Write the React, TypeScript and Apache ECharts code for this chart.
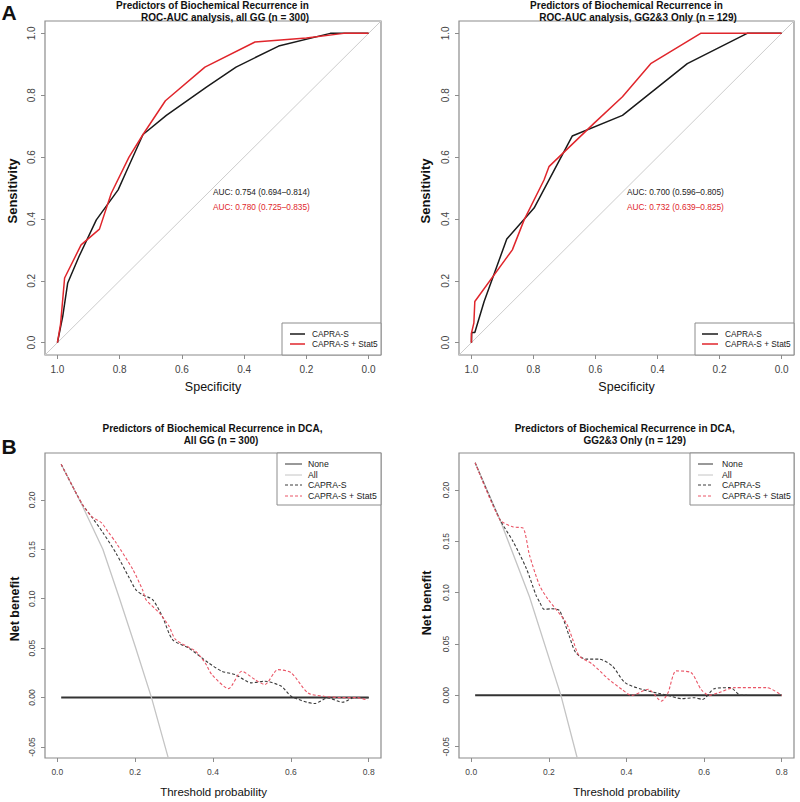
import React, { useEffect, useRef } from "react";
import * as echarts from "echarts";

const FONT = "'Liberation Sans', Arial, Helvetica, sans-serif";

// ---------- Tick labels ----------
const rocTicks = [0, 0.2, 0.4, 0.6, 0.8, 1.0];
const dcaXTicks = [0, 0.2, 0.4, 0.6, 0.8];
const dcaYTicks = [-0.05, 0, 0.05, 0.1, 0.15, 0.2];

// ---------- ROC, all GG (n = 300) ----------
const rocAllCapraSpec = [1.0, 0.99, 0.983, 0.967, 0.93, 0.875, 0.805, 0.78, 0.725, 0.65, 0.52, 0.426, 0.289, 0.123, 0.0];
const rocAllCapraSens = [0.0, 0.05, 0.085, 0.193, 0.28, 0.397, 0.494, 0.55, 0.673, 0.735, 0.827, 0.891, 0.959, 1.0, 1.0];
const rocAllStat5Spec = [1.0, 0.99, 0.977, 0.924, 0.865, 0.827, 0.77, 0.725, 0.653, 0.526, 0.365, 0.2, 0.08, 0.0];
const rocAllStat5Sens = [0.0, 0.06, 0.209, 0.316, 0.367, 0.483, 0.6, 0.673, 0.782, 0.891, 0.972, 0.985, 1.0, 1.0];

// ---------- ROC, GG2&3 only (n = 129) ----------
const rocGGCapraSpec = [1.0, 0.999, 0.989, 0.959, 0.886, 0.798, 0.675, 0.513, 0.304, 0.111, 0.0];
const rocGGCapraSens = [0.0, 0.033, 0.033, 0.133, 0.335, 0.435, 0.668, 0.735, 0.902, 1.0, 1.0];
const rocGGStat5Spec = [1.0, 1.0, 0.992, 0.989, 0.868, 0.83, 0.766, 0.75, 0.605, 0.513, 0.422, 0.261, 0.0];
const rocGGStat5Sens = [0.0, 0.03, 0.064, 0.133, 0.3, 0.397, 0.526, 0.569, 0.709, 0.795, 0.902, 1.0, 1.0];

// ---------- AUC labels ----------
const aucAll = ["AUC: 0.754 (0.694\u20130.814)", "AUC: 0.780 (0.725\u20130.835)"];
const aucGG = ["AUC: 0.700 (0.596\u20130.805)", "AUC: 0.732 (0.639\u20130.825)"];

// ---------- DCA, all GG ----------
const dcaAllNoneThr = [0.01, 0.8];
const dcaAllNoneNb = [0, 0];
const dcaAllAllThr = [0.01, 0.062, 0.117, 0.16, 0.2, 0.242, 0.285];
const dcaAllAllNb = [0.236, 0.196, 0.15, 0.1, 0.052, 0.0, -0.061];
const dcaAllCapraThr = [0.01, 0.062, 0.087, 0.117, 0.151, 0.185, 0.202, 0.219, 0.245, 0.27, 0.296, 0.338, 0.389, 0.423, 0.457, 0.499, 0.533, 0.576, 0.601, 0.661, 0.695, 0.733, 0.763, 0.8];
const dcaAllCapraNb = [0.236, 0.197, 0.1835, 0.167, 0.146, 0.121, 0.109, 0.104, 0.099, 0.082, 0.0587, 0.05, 0.035, 0.0266, 0.0233, 0.0149, 0.0165, 0.0114, 0.0013, -0.006, -0.0003, -0.0047, 0.0, 0.0];
const dcaAllStat5Thr = [0.01, 0.062, 0.087, 0.113, 0.13, 0.151, 0.194, 0.219, 0.228, 0.262, 0.287, 0.304, 0.355, 0.38, 0.397, 0.44, 0.474, 0.508, 0.533, 0.567, 0.601, 0.644, 0.686, 0.729, 0.771, 0.797];
const dcaAllStat5Nb = [0.236, 0.197, 0.1835, 0.177, 0.168, 0.1566, 0.1296, 0.109, 0.099, 0.0857, 0.0722, 0.0587, 0.0469, 0.035, 0.0233, 0.0091, 0.0266, 0.0182, 0.0132, 0.0283, 0.025, 0.0047, 0.0013, 0.0, 0.0, -0.0027];

// ---------- DCA, GG2&3 only ----------
const dcaGGNoneThr = [0.01, 0.8];
const dcaGGNoneNb = [0, 0];
const dcaGGAllThr = [0.01, 0.074, 0.15, 0.231, 0.273];
const dcaGGAllNb = [0.2265, 0.171, 0.096, 0.0, -0.061];
const dcaGGCapraThr = [0.01, 0.074, 0.108, 0.142, 0.167, 0.176, 0.188, 0.205, 0.227, 0.252, 0.269, 0.295, 0.329, 0.363, 0.396, 0.439, 0.482, 0.507, 0.541, 0.575, 0.596, 0.626, 0.668, 0.694, 0.71];
const dcaGGCapraNb = [0.2265, 0.171, 0.1497, 0.1235, 0.0974, 0.091, 0.0837, 0.0843, 0.0827, 0.0582, 0.0418, 0.0353, 0.0353, 0.0287, 0.0124, 0.0059, 0.002, 0.0, -0.0032, -0.0023, -0.004, 0.0065, 0.0075, 0.0, 0.0];
const dcaGGStat5Thr = [0.01, 0.074, 0.108, 0.133, 0.15, 0.176, 0.197, 0.244, 0.261, 0.278, 0.312, 0.354, 0.388, 0.413, 0.456, 0.49, 0.507, 0.528, 0.566, 0.592, 0.613, 0.638, 0.677, 0.762, 0.8];
const dcaGGStat5Nb = [0.2265, 0.171, 0.164, 0.163, 0.1366, 0.107, 0.094, 0.071, 0.0549, 0.0385, 0.0304, 0.0157, 0.0059, 0.0, 0.0059, -0.0056, 0.0026, 0.0238, 0.0222, 0.0059, 0.0, 0.0026, 0.0075, 0.0075, 0.0];

const rocLegend = ["CAPRA-S", "CAPRA-S + Stat5"];
const dcaLegend = ["None", "All", "CAPRA-S", "CAPRA-S + Stat5"];

const RED = "#e0262c";
const BLACK = "#1a1a1a";
const FRAME = "#8c8c8c";
const DIAG = "#cccccc";
const DASH_BLACK = "#3a3a3a";
const DASH_RED = "#ea5566";
const ALL_GRAY = "#c4c4c4";

const zip = (a: number[], b: number[]) => a.map((v, i) => [v, b[i]]);

// Panel frames (pixels)
const grids = [
  { left: 45, top: 21, width: 336, height: 334 },
  { left: 459, top: 21, width: 335, height: 334 },
  { left: 45, top: 453, width: 336, height: 305 },
  { left: 459, top: 453, width: 335, height: 305 },
];

function txt(x: number, y: number, s: string, size: number, o: any = {}) {
  return {
    type: "text",
    x,
    y,
    z: 20,
    rotation: o.rotation || 0,
    style: {
      text: s,
      fontSize: size,
      fontWeight: o.bold ? "bold" : "normal",
      fontFamily: FONT,
      fill: o.fill || "#111",
      align: o.align || "center",
      verticalAlign: "middle",
    },
  };
}

function legendBox(x: number, y: number, w: number, h: number) {
  return {
    type: "rect",
    z: 15,
    shape: { x, y, width: w, height: h },
    style: { fill: "#fff", stroke: FRAME, lineWidth: 1 },
  };
}

function legendLine(x1: number, x2: number, y: number, color: string, dash: boolean, width = 1.2) {
  return {
    type: "line",
    z: 20,
    shape: { x1, y1: y, x2, y2: y },
    style: { stroke: color, lineWidth: width, lineDash: dash ? [3, 2] : null },
  };
}

export default function App() {
  const ref = useRef<HTMLDivElement>(null);

  useEffect(() => {
    if (!ref.current) return;
    const chart = echarts.init(ref.current, undefined, { renderer: "svg" });

    const tick = (vals: number[]) => ({ show: true, customValues: vals, length: 4, lineStyle: { color: FRAME } });
    const label = (vals: number[], digits: number, size: number, rotate = 0) => ({
      customValues: vals,
      formatter: (v: number) => v.toFixed(digits),
      fontSize: size,
      color: "#444",
      margin: 9,
      rotate,
      fontFamily: FONT,
    });
    const baseAxis = (gi: number, min: number, max: number) => ({
      gridIndex: gi,
      type: "value",
      min,
      max,
      axisLine: { show: false, onZero: false },
      splitLine: { show: false },
    });

    const rocX = (gi: number) => ({ ...baseAxis(gi, -0.04, 1.04), inverse: true, axisTick: tick(rocTicks), axisLabel: label(rocTicks, 1, 10) });
    const rocY = (gi: number) => ({ ...baseAxis(gi, -0.04, 1.04), axisTick: tick(rocTicks), axisLabel: label(rocTicks, 1, 10, 90) });
    const dcaX = (gi: number) => ({ ...baseAxis(gi, -0.0316, 0.8316), axisTick: tick(dcaXTicks), axisLabel: label(dcaXTicks, 1, 8.5) });
    const dcaY = (gi: number, min: number, max: number) => ({ ...baseAxis(gi, min, max), axisTick: tick(dcaYTicks), axisLabel: label(dcaYTicks, 2, 8.5, 90) });

    const line = (gi: number, data: number[][], color: string, width: number, dashed: boolean, smooth: number | boolean = false) => ({
      type: "line",
      xAxisIndex: gi,
      yAxisIndex: gi,
      data,
      showSymbol: false,
      symbol: "none",
      smooth,
      clip: true,
      lineStyle: { color, width, type: dashed ? [3, 2] : "solid" },
      silent: true,
    });

    const series: any[] = [
      // ROC all GG
      line(0, [[1.04, -0.04], [-0.04, 1.04]], DIAG, 1, false),
      line(0, zip(rocAllCapraSpec, rocAllCapraSens), BLACK, 1.5, false),
      line(0, zip(rocAllStat5Spec, rocAllStat5Sens), RED, 1.5, false),
      // ROC GG2&3
      line(1, [[1.04, -0.04], [-0.04, 1.04]], DIAG, 1, false),
      line(1, zip(rocGGCapraSpec, rocGGCapraSens), BLACK, 1.5, false),
      line(1, zip(rocGGStat5Spec, rocGGStat5Sens), RED, 1.5, false),
      // DCA all GG
      line(2, zip(dcaAllNoneThr, dcaAllNoneNb), "#333", 2, false),
      line(2, zip(dcaAllAllThr, dcaAllAllNb), ALL_GRAY, 1.3, false),
      line(2, zip(dcaAllCapraThr, dcaAllCapraNb), DASH_BLACK, 1.1, true, 0.25),
      line(2, zip(dcaAllStat5Thr, dcaAllStat5Nb), DASH_RED, 1.1, true, 0.25),
      // DCA GG2&3
      line(3, zip(dcaGGNoneThr, dcaGGNoneNb), "#333", 2, false),
      line(3, zip(dcaGGAllThr, dcaGGAllNb), ALL_GRAY, 1.3, false),
      line(3, zip(dcaGGCapraThr, dcaGGCapraNb), DASH_BLACK, 1.1, true, 0.25),
      line(3, zip(dcaGGStat5Thr, dcaGGStat5Nb), DASH_RED, 1.1, true, 0.25),
    ];

    const graphic: any[] = [
      // Panel letters
      txt(9, 12, "A", 21, { bold: true }),
      txt(9, 446, "B", 21, { bold: true }),
      // Titles
      txt(212.5, 5.5, "Predictors of Biochemical Recurrence in", 10, { bold: true }),
      txt(225, 17, "ROC-AUC analysis, all GG (n = 300)", 10, { bold: true }),
      txt(626.5, 5.5, "Predictors of Biochemical Recurrence in", 10, { bold: true }),
      txt(638, 17, "ROC-AUC analysis, GG2&3 Only (n = 129)", 10, { bold: true }),
      txt(212.5, 428, "Predictors of Biochemical Recurrence in DCA,", 10, { bold: true }),
      txt(221, 440, "All GG (n = 300)", 10, { bold: true }),
      txt(624.7, 428, "Predictors of Biochemical Recurrence in DCA,", 10, { bold: true }),
      txt(634.7, 440, "GG2&3 Only (n = 129)", 10, { bold: true }),
      // Axis titles
      txt(12, 191, "Sensitivity", 13, { bold: true, rotation: Math.PI / 2 }),
      txt(425, 191, "Sensitivity", 13, { bold: true, rotation: Math.PI / 2 }),
      txt(213, 387, "Specificity", 12.5),
      txt(626.5, 387, "Specificity", 12.5),
      txt(14.5, 609, "Net benefit", 12.5, { bold: true, rotation: Math.PI / 2 }),
      txt(426.5, 603, "Net benefit", 12.5, { bold: true, rotation: Math.PI / 2 }),
      txt(213.5, 792, "Threshold probability", 11.5),
      txt(626.5, 792, "Threshold probability", 11.5),
      // AUC texts
      txt(213, 192, aucAll[0], 8.3, { align: "left", fill: "#222" }),
      txt(213, 207, aucAll[1], 8.3, { align: "left", fill: RED }),
      txt(627, 192, aucGG[0], 8.3, { align: "left", fill: "#222" }),
      txt(627, 207, aucGG[1], 8.3, { align: "left", fill: RED }),
      // ROC legends
      legendBox(282, 323, 99, 32),
      legendLine(290, 305, 334, BLACK, false, 1.5),
      legendLine(290, 305, 344, RED, false, 1.5),
      txt(312, 334, rocLegend[0], 8.3, { align: "left", fill: "#222" }),
      txt(312, 344, rocLegend[1], 8.3, { align: "left", fill: "#222" }),
      legendBox(695, 323, 99, 32),
      legendLine(702, 718, 334, BLACK, false, 1.5),
      legendLine(702, 718, 344, RED, false, 1.5),
      txt(725, 334, rocLegend[0], 8.3, { align: "left", fill: "#222" }),
      txt(725, 344, rocLegend[1], 8.3, { align: "left", fill: "#222" }),
      // DCA legends
      legendBox(277, 453, 104, 52),
      legendLine(285, 302, 464, "#333", false, 1),
      legendLine(285, 302, 475, ALL_GRAY, false, 1),
      legendLine(285, 302, 485, DASH_BLACK, true, 1),
      legendLine(285, 302, 496, DASH_RED, true, 1),
      txt(308, 464, dcaLegend[0], 8.7, { align: "left", fill: "#222" }),
      txt(308, 475, dcaLegend[1], 8.7, { align: "left", fill: "#222" }),
      txt(308, 485, dcaLegend[2], 8.7, { align: "left", fill: "#222" }),
      txt(308, 496, dcaLegend[3], 8.7, { align: "left", fill: "#222" }),
      legendBox(690, 453, 104, 52),
      legendLine(698, 713, 464, "#333", false, 1),
      legendLine(698, 713, 475, ALL_GRAY, false, 1),
      legendLine(698, 713, 485, DASH_BLACK, true, 1),
      legendLine(698, 713, 496, DASH_RED, true, 1),
      txt(722, 464, dcaLegend[0], 8.7, { align: "left", fill: "#222" }),
      txt(722, 475, dcaLegend[1], 8.7, { align: "left", fill: "#222" }),
      txt(722, 485, dcaLegend[2], 8.7, { align: "left", fill: "#222" }),
      txt(722, 496, dcaLegend[3], 8.7, { align: "left", fill: "#222" }),
    ];

    chart.setOption({
      animation: false,
      backgroundColor: "#fff",
      textStyle: { fontFamily: FONT },
      grid: grids.map((g) => ({ ...g, show: true, borderColor: FRAME, borderWidth: 1.2, backgroundColor: "transparent", containLabel: false })),
      xAxis: [rocX(0), rocX(1), dcaX(2), dcaX(3)],
      yAxis: [rocY(0), rocY(1), dcaY(2, -0.0611, 0.2474), dcaY(3, -0.061, 0.236)],
      series,
      graphic,
    });

    return () => chart.dispose();
  }, []);

  return (
    <div
      ref={ref}
      style={{ position: "fixed", left: 0, top: 0, width: 800, height: 802, background: "#fff" }}
    />
  );
}
